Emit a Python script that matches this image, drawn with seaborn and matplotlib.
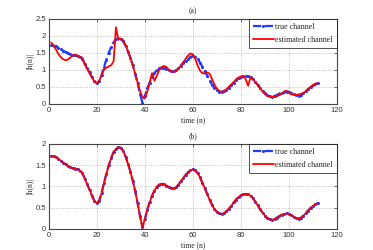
import numpy as np
import pandas as pd
import matplotlib
matplotlib.use("Agg")
import matplotlib.pyplot as plt
import seaborn as sns

# time index
n = list(range(1, 113))

# true channel |h(n)| (same in both panels)
h_true = [1.72, 1.71, 1.69, 1.65, 1.61, 1.56, 1.52, 1.48, 1.45, 1.43,
          1.42, 1.40, 1.37, 1.32, 1.18, 1.05, 0.92, 0.78, 0.66, 0.60,
          0.66, 0.84, 1.08, 1.30, 1.50, 1.67, 1.81, 1.89, 1.92, 1.91,
          1.84, 1.70, 1.53, 1.35, 1.13, 0.88, 0.60, 0.30, 0.03, 0.22,
          0.45, 0.62, 0.78, 0.90, 0.99, 1.04, 1.06, 1.05, 1.02, 0.98,
          0.96, 0.95, 0.98, 1.04, 1.12, 1.20, 1.27, 1.33, 1.38, 1.40,
          1.38, 1.31, 1.21, 1.08, 0.95, 0.82, 0.68, 0.56, 0.46, 0.40,
          0.36, 0.35, 0.37, 0.41, 0.47, 0.54, 0.62, 0.69, 0.75, 0.79,
          0.81, 0.82, 0.81, 0.78, 0.72, 0.64, 0.55, 0.46, 0.38, 0.31,
          0.25, 0.22, 0.21, 0.23, 0.26, 0.30, 0.33, 0.35, 0.36, 0.35,
          0.32, 0.28, 0.25, 0.24, 0.26, 0.31, 0.37, 0.43, 0.49, 0.54,
          0.58, 0.60]

# estimated channel, panel (a)
h_est_a = [1.80, 1.72, 1.60, 1.47, 1.37, 1.31, 1.28, 1.30, 1.36, 1.42,
           1.44, 1.42, 1.37, 1.36, 1.15, 1.03, 0.90, 0.77, 0.66, 0.60,
           0.68, 0.84, 1.00, 1.06, 1.10, 1.13, 1.25, 2.25, 1.88, 1.92,
           1.87, 1.72, 1.55, 1.35, 1.12, 0.88, 0.62, 0.38, 0.20, 0.17,
           0.35, 0.62, 0.90, 0.68, 0.82, 1.00, 1.08, 1.11, 1.08, 1.00,
           0.95, 0.94, 0.97, 1.03, 1.12, 1.22, 1.32, 1.42, 1.48, 1.45,
           1.32, 1.12, 0.97, 0.90, 0.89, 0.92, 0.88, 0.72, 0.56, 0.44,
           0.37, 0.35, 0.38, 0.43, 0.50, 0.57, 0.64, 0.72, 0.77, 0.80,
           0.81, 0.72, 0.53, 0.78, 0.72, 0.64, 0.55, 0.45, 0.36, 0.29,
           0.23, 0.20, 0.20, 0.21, 0.24, 0.27, 0.30, 0.36, 0.38, 0.32,
           0.28, 0.26, 0.26, 0.27, 0.29, 0.32, 0.37, 0.43, 0.49, 0.55,
           0.59, 0.61]

# estimated channel, panel (b): coincides with the true channel
h_est_b = [1.72, 1.71, 1.69, 1.65, 1.61, 1.56, 1.52, 1.48, 1.45, 1.43,
           1.42, 1.40, 1.37, 1.32, 1.18, 1.05, 0.92, 0.78, 0.66, 0.60,
           0.66, 0.84, 1.08, 1.30, 1.50, 1.67, 1.81, 1.89, 1.92, 1.91,
           1.84, 1.70, 1.53, 1.35, 1.13, 0.88, 0.60, 0.30, 0.03, 0.22,
           0.45, 0.62, 0.78, 0.90, 0.99, 1.04, 1.06, 1.05, 1.02, 0.98,
           0.96, 0.95, 0.98, 1.04, 1.12, 1.20, 1.27, 1.33, 1.38, 1.40,
           1.38, 1.31, 1.21, 1.08, 0.95, 0.82, 0.68, 0.56, 0.46, 0.40,
           0.36, 0.35, 0.37, 0.41, 0.47, 0.54, 0.62, 0.69, 0.75, 0.79,
           0.81, 0.82, 0.81, 0.78, 0.72, 0.64, 0.55, 0.46, 0.38, 0.31,
           0.25, 0.22, 0.21, 0.23, 0.26, 0.30, 0.33, 0.35, 0.36, 0.35,
           0.32, 0.28, 0.25, 0.24, 0.26, 0.31, 0.37, 0.43, 0.49, 0.54,
           0.58, 0.60]

titles = ["(a)", "(b)"]
x_ticks = [0, 20, 40, 60, 80, 100, 120]
y_ticks_a = [0, 0.5, 1, 1.5, 2, 2.5]
y_ticks_b = [0, 0.5, 1, 1.5, 2]
label_true = "true channel"
label_est = "estimated channel"

sns.set_style("white")
serif = ["Liberation Serif", "DejaVu Serif"]
plt.rcParams["font.family"] = ["Liberation Sans", "DejaVu Sans"]

fig = plt.figure(figsize=(3.73, 2.5), dpi=100)
ax_a = fig.add_axes([0.1306, 0.585, 0.9035 - 0.1306, 0.925 - 0.585])
ax_b = fig.add_axes([0.1306, 0.085, 0.9035 - 0.1306, 0.424 - 0.085])

panels = [(ax_a, h_est_a, y_ticks_a), (ax_b, h_est_b, y_ticks_b)]
for (ax, est, yt), title in zip(panels, titles):
    df = pd.DataFrame({"n": n, "true": h_true, "est": est})
    sns.lineplot(data=df, x="n", y="true", ax=ax, color="#1f3cff",
                 linestyle="--", marker="o", markersize=2.2,
                 markeredgewidth=0, linewidth=1.6, label=label_true,
                 dashes=(2.5, 2.5))
    sns.lineplot(data=df, x="n", y="est", ax=ax, color="#ff0000",
                 linewidth=1.3, label=label_est)
    ax.set_xlim(0, 120)
    ax.set_ylim(yt[0], yt[-1])
    ax.set_xticks(x_ticks)
    ax.set_yticks(yt)
    ax.set_yticklabels([f"{v:g}" for v in yt])
    ax.tick_params(axis="both", labelsize=5.5, direction="in", length=2,
                   width=0.5, top=True, right=True, pad=2, colors="#333333")
    ax.grid(True, linestyle=":", color="#b0b0b0", linewidth=0.6)
    for s in ax.spines.values():
        s.set_color("#444444")
        s.set_linewidth(0.8)
    ax.set_xlabel("time (n)", fontsize=5.5, family=serif, labelpad=2)
    ax.set_ylabel("|h(n)|", fontsize=5.5, family=serif, labelpad=1)
    ax.set_title(title, fontsize=5.5, family=serif, pad=4)
    leg = ax.legend(loc="upper right", borderaxespad=0.0,
                    prop={"family": serif, "size": 5.8}, frameon=True,
                    fancybox=False, handlelength=2.6, handletextpad=0.2,
                    borderpad=0.5, labelspacing=0.6)
    leg.get_frame().set_edgecolor("black")
    leg.get_frame().set_linewidth(0.6)

fig.savefig("out.png", dpi=100)
